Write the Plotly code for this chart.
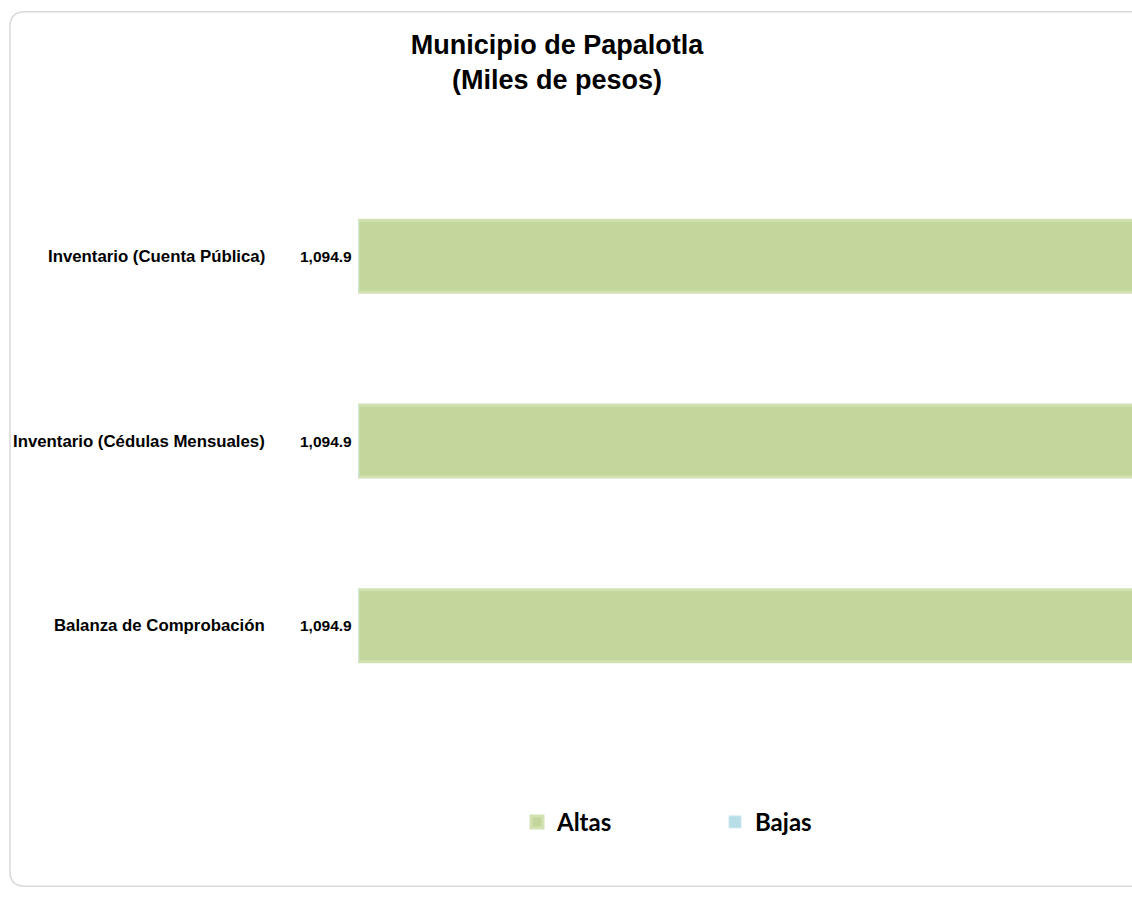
import plotly.graph_objects as go

categories = ["Inventario (Cuenta Pública)", "Inventario (Cédulas Mensuales)", "Balanza de Comprobación"]
altas = [1094.9, 1094.9, 1094.9]
bajas = [0, 0, 0]
series_names = ["Altas", "Bajas"]

W, H = 1132, 911
L, R, T, B = 358, 0, 163.5, 192.5
pw, ph = W - L - R, H - T - B

def px(x):
    return (x - L) / pw

def py(y):
    return (H - B - y) / ph

fig = go.Figure()
fig.add_trace(go.Bar(
    y=categories, x=altas, orientation="h", name=series_names[0],
    marker=dict(color="#c3d69b", line=dict(color="#d3e2b3", width=3)),
    width=0.39, hoverinfo="x+y",
))
fig.add_trace(go.Bar(
    y=categories, x=bajas, orientation="h", name=series_names[1],
    marker=dict(color="#b7dee8", line=dict(color="#cde8ef", width=1)),
    width=0.39,
))

annotations = []
for c, v in zip(categories, altas):
    annotations.append(dict(
        x=0, y=c, xref="x", yref="y", text=f"<b>{v:,.1f}</b>", showarrow=False,
        xanchor="right", xshift=-4, font=dict(family="Liberation Sans", size=15.5, color="#000"),
    ))
    annotations.append(dict(
        x=0, y=c, xref="paper", yref="y", text=f"<b>{c}</b>", showarrow=False,
        xanchor="right", xshift=-91, font=dict(family="Liberation Sans", size=16.8, color="#000"),
    ))

# rounded frame
x0, y0, x1, y1, r = px(10), py(11), px(1145), py(887), 15
rx, ry = r / pw, r / ph
path = (f"M {x0+rx},{y0} L {x1-rx},{y0} Q {x1},{y0} {x1},{y0-ry} "
        f"L {x1},{y1+ry} Q {x1},{y1} {x1-rx},{y1} L {x0+rx},{y1} "
        f"Q {x0},{y1} {x0},{y1+ry} L {x0},{y0-ry} Q {x0},{y0} {x0+rx},{y0} Z")

fig.update_layout(
    width=W, height=H,
    margin=dict(l=L, r=R, t=T, b=B),
    paper_bgcolor="white", plot_bgcolor="rgba(0,0,0,0)",
    barmode="overlay",
    title=dict(
        text="<b>Municipio de Papalotla<br>(Miles de pesos)</b>",
        x=557 / W, xanchor="center", xref="container",
        y=1 - 54 / H, yanchor="top",
        font=dict(family="Liberation Sans", size=27, color="#000"),
    ),
    xaxis=dict(range=[0, 1000], visible=False, showgrid=False, zeroline=False),
    yaxis=dict(categoryorder="array", categoryarray=categories, autorange="reversed",
               showticklabels=False, showgrid=False, zeroline=False, showline=False, ticks=""),
    showlegend=True,
    legend=dict(
        orientation="h", x=px(517), xanchor="left", y=py(823), yanchor="middle",
        font=dict(family="Lato", size=24, color="#000", weight="bold"),
        entrywidth=153, entrywidthmode="pixels", itemwidth=30,
        bgcolor="rgba(0,0,0,0)",
    ),
    annotations=annotations,
    shapes=[dict(type="path", xref="paper", yref="paper", path=path,
                 line=dict(color="#d9d9d9", width=1.5), layer="below")],
)

fig.write_html("out.html", config={"displayModeBar": False},
               post_script="document.body.style.margin='0';")
